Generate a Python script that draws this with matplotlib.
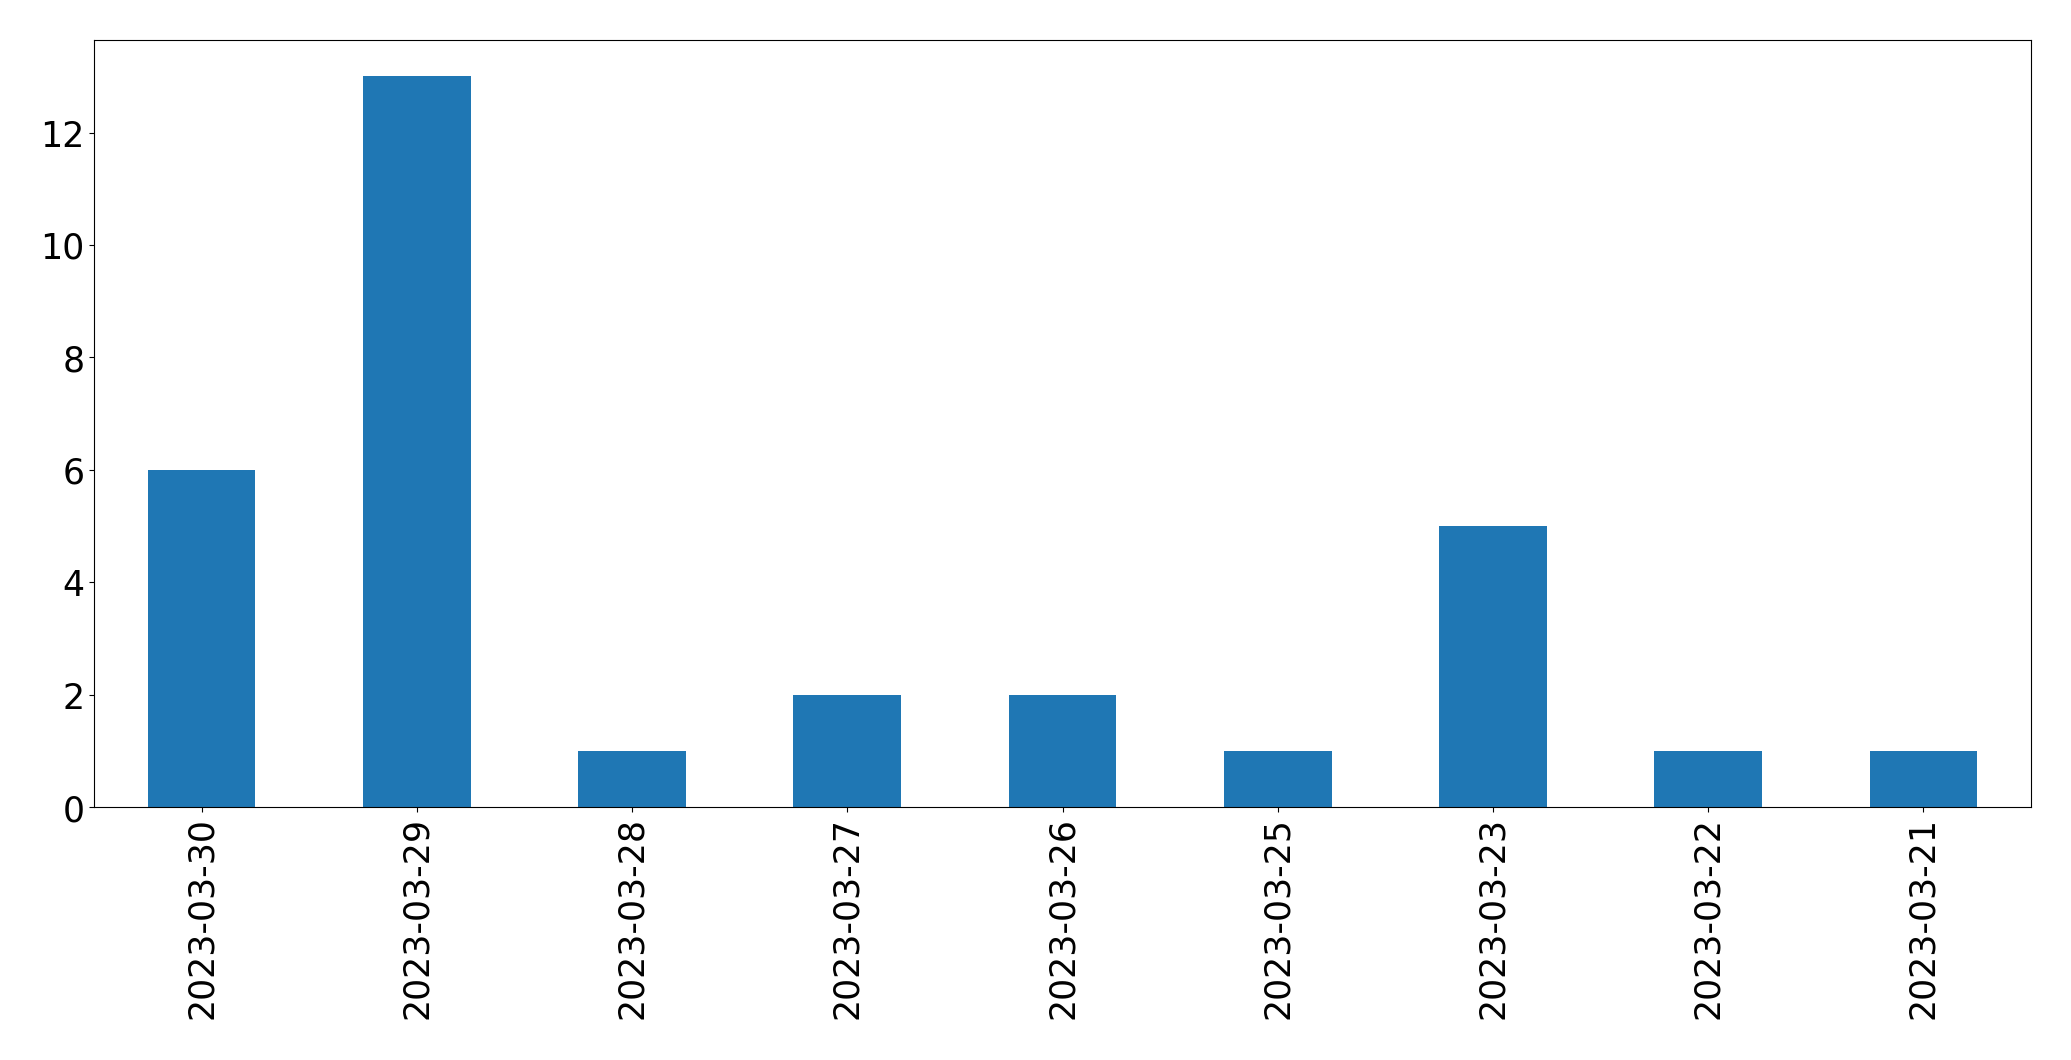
import matplotlib
matplotlib.use("Agg")
import matplotlib.pyplot as plt

dates = ["2023-03-30", "2023-03-29", "2023-03-28", "2023-03-27", "2023-03-26",
         "2023-03-25", "2023-03-23", "2023-03-22", "2023-03-21"]
counts = [6, 13, 1, 2, 2, 1, 5, 1, 1]

fig, ax = plt.subplots(figsize=(20.71, 10.605), dpi=100)
x = range(len(dates))
ax.bar(x, counts, width=0.5, color="#1f77b4")
ax.set_xlim(-0.5, len(dates) - 0.5)
ax.set_ylim(0, 13.65)
ax.set_xticks(list(x))
ax.set_xticklabels(dates, rotation=90)
ax.set_yticks([0, 2, 4, 6, 8, 10, 12])
ax.tick_params(labelsize=25)

plt.subplots_adjust(left=0.0454, right=0.9807, bottom=0.2385, top=0.962)
plt.savefig("out.png")
